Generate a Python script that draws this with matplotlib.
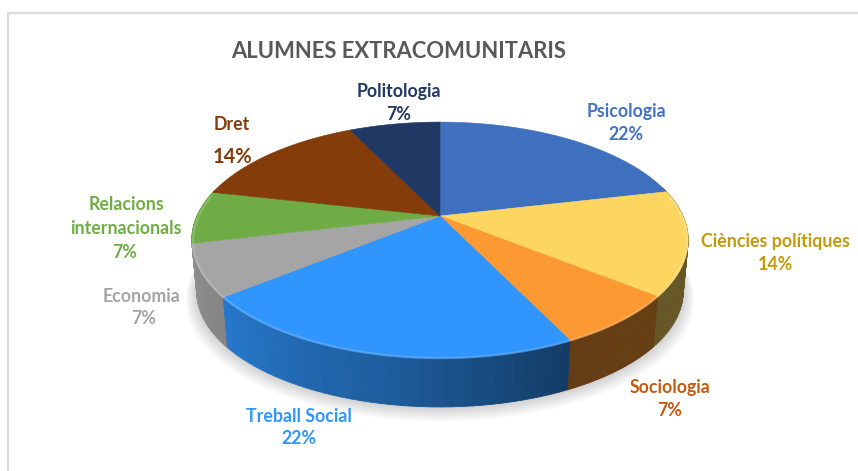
import numpy as np
import matplotlib
matplotlib.use("Agg")
import matplotlib.pyplot as plt
from matplotlib.collections import PolyCollection

plt.rcParams['font.family'] = ['Lato', 'DejaVu Sans']

title = "ALUMNES EXTRACOMUNITARIS"
categories = ["Psicologia", "Ciències polítiques", "Sociologia", "Treball Social",
              "Economia", "Relacions internacionals", "Dret", "Politologia"]
# slice sizes as drawn, the printed labels are rounded
values = [21.4, 14.3, 7.1, 21.4, 7.1, 7.2, 14.3, 7.2]
top_colors = ["#3F6FBF", "#FCD660", "#FD9932", "#3096FE",
              "#A5A5A5", "#6FAC46", "#843C0B", "#1F3864"]
label_colors = ["#4472C4", "#C39A0C", "#C55A11", "#2E96FF",
                "#A5A5A5", "#70AD47", "#843C0C", "#203864"]
# label lines: (text, x, y, size), one list per category
label_lines = [
    [("Psicologia", 626, 112, 12.8), ("22%", 626, 135, 12.8)],
    [("Ciències polítiques", 775, 242, 12.8), ("14%", 775, 265, 12.8)],
    [("Sociologia", 670, 388, 12.8), ("7%", 670, 410, 12.8)],
    [("Treball Social", 299, 416, 12.8), ("22%", 299, 438, 12.8)],
    [("Economia", 142, 297, 12.8), ("7%", 144, 319, 12.8)],
    [("Relacions", 126, 205, 12.8), ("internacionals", 126, 229, 12.8), ("7%", 125, 253, 12.8)],
    [("Dret", 232, 125, 12.8), ("14%", 232, 157, 14.5)],
    [("Politologia", 399, 91, 12.8), ("7%", 399, 114, 12.8)],
]

# perspective of the disc, in pixels
cx, cy = 440, 216
rad_x, rad_y, persp = 243, 113, 0.203
depth = 52
base_scale = 0.98


def project(theta, scale=1.0, dy=0.0):
    # theta clockwise from 12 o'clock
    w = 1 + persp * np.cos(theta)
    return cx + scale * rad_x * np.sin(theta) / w, cy + dy - scale * rad_y * np.cos(theta) / w


def shade(color, f):
    return tuple(c * f for c in matplotlib.colors.to_rgb(color))


def side_factor(theta):
    # brighter to the left of the front, dark on the right
    return np.interp(np.degrees(theta), [90, 155, 190, 231, 258, 270],
                     [0.41, 0.40, 0.62, 0.80, 0.88, 0.88])


fig = plt.figure(figsize=(8.58, 4.71), dpi=100)
ax = fig.add_axes([0, 0, 1, 1])
ax.set_xlim(0, 858)
ax.set_ylim(471, 0)
ax.axis("off")

# chart frame, only top and left edges show
ax.plot([8, 8, 858], [470, 13, 13], color="#D9D9D9", lw=1.6, solid_joinstyle="miter")

ax.text(399, 51, title, color="#595959", fontsize=15.8, fontweight="bold",
        ha="center", va="center")

# soft shadow under the disc
circle = np.linspace(0, 2 * np.pi, 200)
for i in range(10):
    sx, sy = project(circle, base_scale + 0.005 * i, depth + 0.9 * i)
    ax.fill(sx, sy, color="black", alpha=0.02, lw=0, zorder=1)

edges = np.cumsum([0] + values) / sum(values) * 2 * np.pi

# side wall, many small quads so the shading runs along the arc
quads = []
for k in range(len(values)):
    t = np.linspace(edges[k], edges[k + 1], 40)
    x, y = project(t)
    bx, by = project(t, base_scale, depth)
    for j in range(len(t) - 1):
        mid = (t[j] + t[j + 1]) / 2
        if np.cos(mid) > 0.25:
            continue
        quads.append((np.cos(mid),
                      [(x[j], y[j]), (x[j + 1], y[j + 1]), (bx[j + 1], by[j + 1]), (bx[j], by[j])],
                      shade(top_colors[k], side_factor(mid))))
# back to front, so the wall of a back slice never covers a front one
quads.sort(key=lambda q: -q[0])
quad_colors = [q[2] for q in quads]
ax.add_collection(PolyCollection([q[1] for q in quads], facecolors=quad_colors,
                                 edgecolors=quad_colors, linewidths=0.6, zorder=2))

# top faces
for k in range(len(values)):
    t = np.linspace(edges[k], edges[k + 1], 80)
    x, y = project(t)
    ax.fill(np.r_[cx, x], np.r_[cy, y], color=top_colors[k], lw=0.4, zorder=3)

# bevel highlight along the front rim
for k in range(len(values)):
    t = np.linspace(edges[k], edges[k + 1], 80)
    t = t[np.cos(t) < 0.2]
    if len(t) < 2:
        continue
    x, y = project(t, 0.995)
    light = tuple(c + (1 - c) * 0.3 for c in matplotlib.colors.to_rgb(top_colors[k]))
    ax.plot(x, y + 1, color=light, lw=1.6, alpha=0.6, zorder=4, solid_capstyle="butt")

for lines, color in zip(label_lines, label_colors):
    for text, lx, ly, size in lines:
        ax.text(lx, ly, text, color=color, fontsize=size, fontweight="bold",
                ha="center", va="center", zorder=5)

fig.savefig("out.png", dpi=100)
